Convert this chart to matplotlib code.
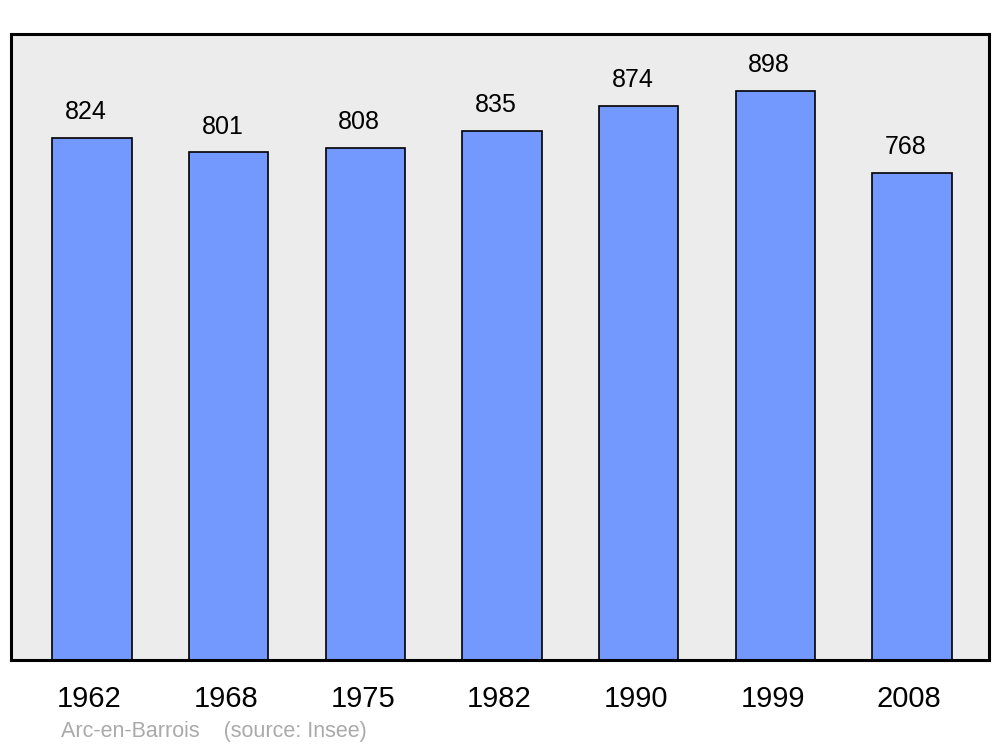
import matplotlib
matplotlib.use("Agg")
import matplotlib.pyplot as plt

years = ['1962', '1968', '1975', '1982', '1990', '1999', '2008']
population = [824, 801, 808, 835, 874, 898, 768]
commune = 'Arc-en-Barrois'

plt.rcParams['font.family'] = ['Liberation Sans', 'DejaVu Sans']

fig = plt.figure(figsize=(10, 7.47), dpi=100)
ax = fig.add_axes([0.011, 1 - 660 / 747, 0.978, (660 - 34) / 747])
ax.set_facecolor('#ececec')

x = range(len(years))
ax.bar(x, population, width=0.58, color='#7399ff', edgecolor='black', linewidth=1.2, zorder=2)
for i, v in zip(x, population):
    ax.text(i - 0.045, v + 22, str(v), ha='center', va='bottom', fontsize=18)

ax.set_xlim(-0.593, 6.563)
ax.set_ylim(0, 988)
ax.set_xticks([i - 0.02 for i in x])
ax.set_xticklabels(years, fontsize=21)
ax.tick_params(axis='x', length=0, pad=18)
ax.set_yticks([])
for s in ax.spines.values():
    s.set_linewidth(2.2)

fig.text(0.061, 1 - 731 / 747, commune + '    (source: Insee)', color='#aaaaaa',
         fontsize=15.5, va='center')

plt.savefig('out.png', dpi=100)
